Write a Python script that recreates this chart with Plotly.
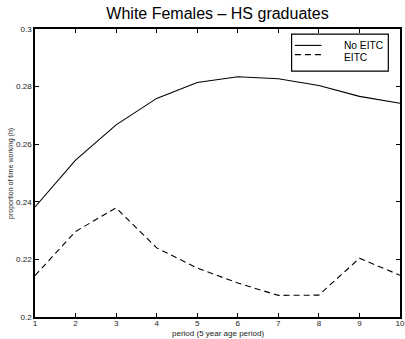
import plotly.graph_objects as go

periods = [1, 2, 3, 4, 5, 6, 7, 8, 9, 10]
no_eitc = [0.2382, 0.2545, 0.2667, 0.2759, 0.2814, 0.2834, 0.2827, 0.2804, 0.2766, 0.2742]
eitc = [0.2144, 0.2297, 0.2379, 0.2240, 0.2170, 0.2118, 0.2075, 0.2076, 0.2204, 0.2145]
y_ticks = [0.2, 0.22, 0.24, 0.26, 0.28, 0.3]
y_tick_labels = ["0.2", "0.22", "0.24", "0.26", "0.28", "0.3"]
legend_names = ["No EITC", "EITC"]

font = "Liberation Sans, Arial, sans-serif"
dash_style = "6px,4px"

fig = go.Figure()
fig.add_trace(go.Scatter(x=periods, y=no_eitc, mode="lines", name=legend_names[0],
                         line=dict(color="black", width=1.1)))
fig.add_trace(go.Scatter(x=periods, y=eitc, mode="lines", name=legend_names[1],
                         line=dict(color="black", width=1.1, dash=dash_style)))

# legend box drawn in paper coordinates
fig.add_shape(type="rect", xref="paper", yref="paper", x0=0.703, x1=0.968, y0=0.854, y1=0.982,
              line=dict(color="black", width=1.2), fillcolor="white", layer="above")
fig.add_shape(type="line", xref="paper", yref="paper", x0=0.712, x1=0.785, y0=0.943, y1=0.943,
              line=dict(color="black", width=1.1))
fig.add_shape(type="line", xref="paper", yref="paper", x0=0.712, x1=0.785, y0=0.911, y1=0.911,
              line=dict(color="black", width=1.1, dash=dash_style))
for name, yy in zip(legend_names, [0.942, 0.902]):
    fig.add_annotation(text=name, xref="paper", yref="paper", x=0.843, y=yy, xanchor="left",
                       yanchor="middle", showarrow=False, borderpad=0,
                       font=dict(size=10.2, family=font, color="black"))

# axis titles
fig.add_annotation(text="period (5 year age period)", xref="paper", yref="paper", x=0.5,
                   y=-0.058, xanchor="center", yanchor="middle", showarrow=False, borderpad=0,
                   font=dict(size=8, family=font, color="#222"))
fig.add_annotation(text="proportion of time working (h)", xref="paper", yref="paper", x=-0.066,
                   y=0.5, xanchor="center", yanchor="middle", textangle=-90, showarrow=False,
                   font=dict(size=7, family=font, color="#222"))

fig.update_layout(
    width=405, height=339,
    margin=dict(l=35, r=5, t=29, b=22),
    paper_bgcolor="white", plot_bgcolor="white",
    font=dict(family=font, color="black"),
    title=dict(text="White Females \u2013 HS graduates", xref="paper", x=0.5, xanchor="center",
               y=0.96, yanchor="middle", font=dict(size=16, family=font, color="black")),
    showlegend=False,
)
fig.update_xaxes(range=[1, 10], tickvals=periods, showline=True, linecolor="black",
                 linewidth=1.5, mirror="ticks", ticks="inside", ticklen=4, tickcolor="black",
                 showgrid=False, zeroline=False, tickfont=dict(size=8, color="#222"),
                 ticklabeloverflow="allow", automargin=False, ticklabelstandoff=-2)
fig.update_yaxes(range=[0.2, 0.3], tickvals=y_ticks, ticktext=y_tick_labels, showline=True,
                 linecolor="black", linewidth=1.5, mirror="ticks", ticks="inside", ticklen=4,
                 tickcolor="black", showgrid=False, zeroline=False,
                 tickfont=dict(size=8, color="#222"), ticklabeloverflow="allow", automargin=False)

fig.write_html("out.html", config={"displayModeBar": False},
               post_script="document.body.style.margin='0';")
